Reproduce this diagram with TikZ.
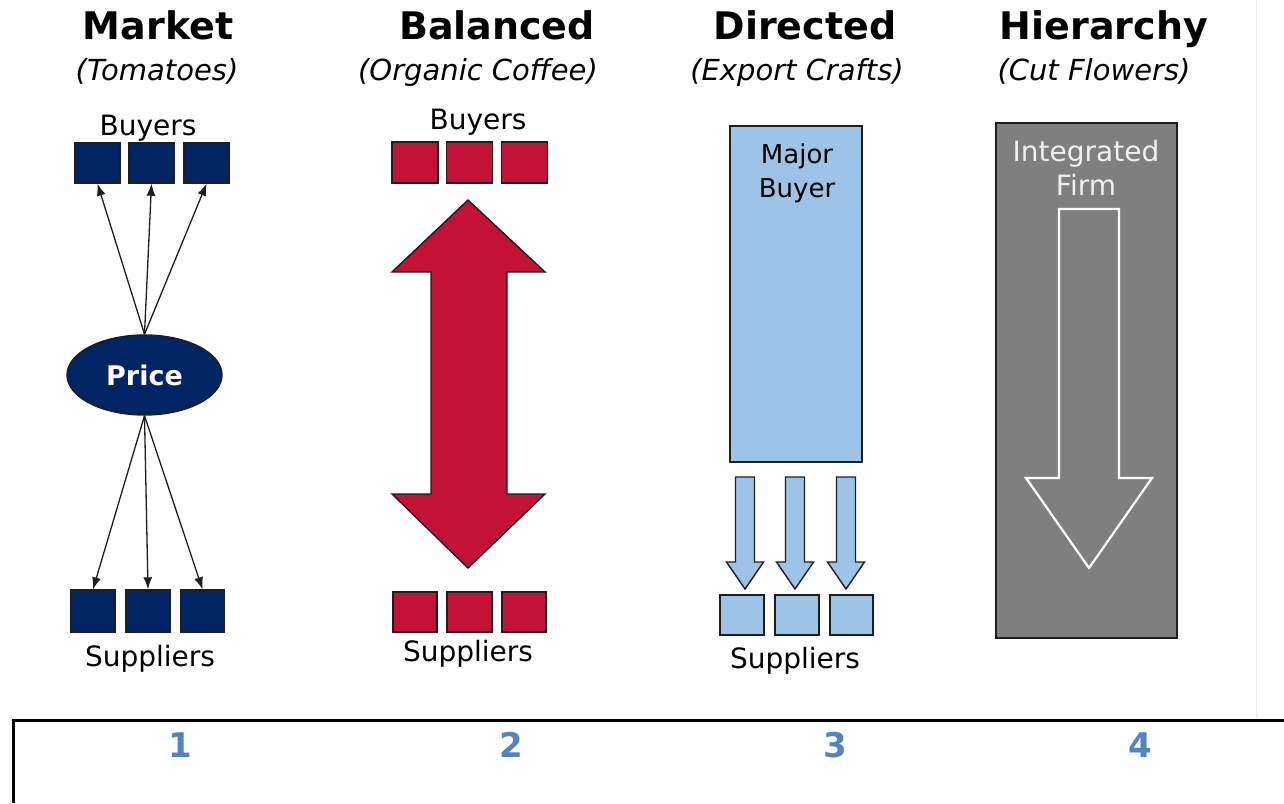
\documentclass[tikz,border=0pt]{standalone}
\usepackage{fontspec}
\setmainfont{DejaVu Sans}
\usetikzlibrary{arrows.meta,shapes.geometric}
\definecolor{navy}{RGB}{0,36,100}
\definecolor{crimson}{RGB}{196,18,54}
\definecolor{lblue}{RGB}{157,195,230}
\definecolor{firmgray}{RGB}{127,127,127}
\definecolor{numblue}{RGB}{84,132,192}
\definecolor{edge}{RGB}{30,30,30}
\tikzset{
  title/.style={font=\fontsize{38}{44}\selectfont\bfseries, inner sep=0pt, anchor=base},
  subtitle/.style={font=\fontsize{29}{34}\selectfont\itshape, inner sep=0pt, anchor=base},
  label/.style={font=\fontsize{28}{32}\selectfont, inner sep=0pt, anchor=base},
  sq/.style={draw=edge, line width=1.4pt, minimum width=45pt, minimum height=40pt, inner sep=0pt},
  navysq/.style={sq, fill=navy},
  redsq/.style={sq, fill=crimson},
  bluesq/.style={sq, fill=lblue},
  flow/.style={draw=edge, line width=1.3pt, -{Latex[length=12pt,width=9pt]}},
  blockarrow/.style={draw=edge, line width=1.4pt, line join=miter},
  num/.style={font=\fontsize{34}{40}\selectfont\bfseries, text=numblue, inner sep=0pt},
}
\begin{document}
\begin{tikzpicture}[x=1pt,y=-1pt]
\useasboundingbox (0,0) rectangle (1284,803);
\fill[white] (0,0) rectangle (1284,803);
% faint separator
\draw[line width=1pt, color=black!8] (1256,0) -- (1256,718);

% titles
\node[title] (t1) at (158,39) {Market};
\node[subtitle] (st1) at (157,80) {(Tomatoes)};
\node[title] (t2) at (497,39) {Balanced};
\node[subtitle] (st2) at (478,80) {(Organic Coffee)};
\node[title] (t3) at (805,39) {Directed};
\node[subtitle] (st3) at (797,80) {(Export Crafts)};
\node[title] (t4) at (1104,39) {Hierarchy};
\node[subtitle] (st4) at (1094,80) {(Cut Flowers)};

% ---- column 1: market
\node[label] (buy1) at (148,135) {Buyers};
\node[navysq] (b1) at (97.5,163) {};
\node[navysq] (b2) at (151.5,163) {};
\node[navysq] (b3) at (206.5,163) {};
\node[ellipse, draw=edge, line width=1.4pt, fill=navy, minimum width=155pt, minimum height=80pt, inner sep=0pt,
      text=white, font=\fontsize{27}{30}\selectfont\bfseries] (price) at (144.5,375) {Price};
\node[navysq, minimum width=44pt, minimum height=42pt] (s1) at (93,611) {};
\node[navysq, minimum width=44pt, minimum height=42pt] (s2) at (148,611) {};
\node[navysq, minimum width=44pt, minimum height=42pt] (s3) at (202.5,611) {};
\node[label] (sup1) at (150,666) {Suppliers};
\draw[flow] (price.north) -- (b1.south);
\draw[flow] (price.north) -- (b2.south);
\draw[flow] (price.north) -- (b3.south);
\draw[flow] (price.south) -- (s1.north);
\draw[flow] (price.south) -- (s2.north);
\draw[flow] (price.south) -- (s3.north);

% ---- column 2: balanced
\node[label] (buy2) at (478,129) {Buyers};
\node[redsq, minimum width=46pt, minimum height=41pt] (rb1) at (415,162.5) {};
\node[redsq, minimum width=46pt, minimum height=41pt] (rb2) at (469.5,162.5) {};
\node[redsq, minimum width=46pt, minimum height=41pt] (rb3) at (524.5,162.5) {};
\node[redsq, minimum width=44pt, minimum height=40pt] (rs1) at (415,612) {};
\node[redsq, minimum width=45pt, minimum height=40pt] (rs2) at (469.5,612) {};
\node[redsq, minimum width=44pt, minimum height=40pt] (rs3) at (524,612) {};
\node[label] (sup2) at (468,661) {Suppliers};
\draw[blockarrow, fill=crimson] (468,200) -- (545,272) -- (507,272) -- (507,494) -- (545,494)
  -- (468,568) -- (392,494) -- (431,494) -- (431,272) -- (392,272) -- cycle;

% ---- column 3: directed
\node[bluesq, minimum width=132pt, minimum height=336pt] (major) at (796,294) {};
\node[label, font=\fontsize{26}{30}\selectfont] (majtxt1) at (797,163) {Major};
\node[label, font=\fontsize{26}{30}\selectfont] (majtxt2) at (797,197) {Buyer};
\node[bluesq, minimum width=44pt, minimum height=40pt] (ds1) at (742,615) {};
\node[bluesq, minimum width=44pt, minimum height=40pt] (ds2) at (797,615) {};
\node[bluesq, minimum width=43pt, minimum height=40pt] (ds3) at (851.5,615) {};
\node[label] (sup3) at (795,668) {Suppliers};
\foreach \c in {745,795,846}{
  \draw[blockarrow, fill=lblue] (\c-9.5,477) -- (\c+9.5,477) -- (\c+9.5,562) -- (\c+18.5,562)
    -- (\c,589) -- (\c-18.5,562) -- (\c-9.5,562) -- cycle;
}

% ---- column 4: hierarchy
\node[draw=edge, line width=1.4pt, fill=firmgray, minimum width=181pt, minimum height=515pt, inner sep=0pt] (firm) at (1086.5,380.5) {};
\node[label, text=black!6] (firmtxt1) at (1086,161) {Integrated};
\node[label, text=black!6] (firmtxt2) at (1086,195) {Firm};
\draw[white, line width=2.2pt, line join=miter] (1059,209) -- (1119,209) -- (1119,478) -- (1152,478)
  -- (1089,568) -- (1026,478) -- (1059,478) -- cycle;

% ---- bottom panel
\draw[black, line width=3pt] (13,803) -- (13,720) -- (1284,720);
\node[num] (n1) at (180,745) {1};
\node[num] (n2) at (511,745) {2};
\node[num] (n3) at (835,745) {3};
\node[num] (n4) at (1140,745) {4};
\end{tikzpicture}
\end{document}
